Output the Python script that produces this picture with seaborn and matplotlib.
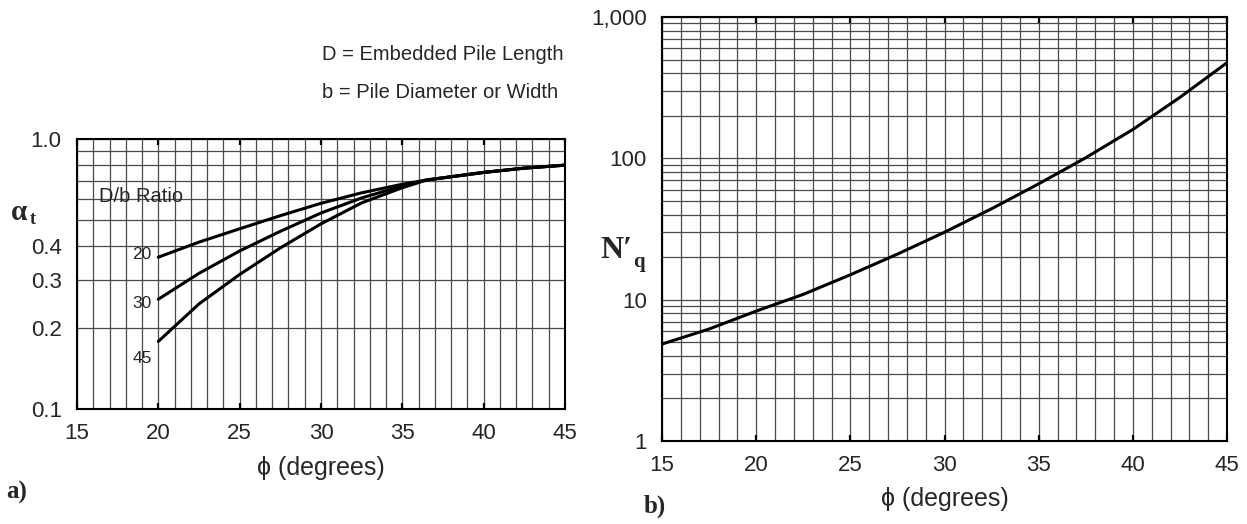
import matplotlib
matplotlib.use("Agg")
import matplotlib.pyplot as plt
from matplotlib.ticker import FixedLocator, NullFormatter
import pandas as pd
import seaborn as sns

# ---- data -------------------------------------------------------------
# a) alpha_t versus friction angle for three D/b ratios
phi_a = [20, 22.5, 25, 27.5, 30, 32.5, 35, 36.5, 40, 42.5, 45]
alpha_db20 = [0.365, 0.415, 0.465, 0.520, 0.578, 0.632, 0.680, 0.705, 0.752, 0.780, 0.800]
alpha_db30 = [0.255, 0.318, 0.385, 0.455, 0.532, 0.605, 0.670, 0.705, 0.752, 0.780, 0.800]
alpha_db45 = [0.178, 0.245, 0.315, 0.395, 0.485, 0.580, 0.660, 0.705, 0.752, 0.780, 0.800]
db_ratios = [20, 30, 45]

# b) bearing capacity factor N'q versus friction angle
phi_b = [15, 17.5, 20, 22.5, 25, 27.5, 30, 32.5, 35, 37.5, 40, 42.5, 45]
nq = [4.85, 6.2, 8.3, 10.9, 15.0, 21.0, 30.0, 44.0, 66.0, 101.0, 160.0, 270.0, 475.0]

# axis tick values / labels
phi_major = [15, 20, 25, 30, 35, 40, 45]
alpha_ticks = [0.1, 0.2, 0.3, 0.4, 1.0]
alpha_ticklabels = ["0.1", "0.2", "0.3", "0.4", "1.0"]
nq_ticks = [1, 10, 100, 1000]
nq_ticklabels = ["1", "10", "100", "1,000"]

# ---- style ------------------------------------------------------------
sns.set_style("white")
plt.rcParams["font.family"] = ["Liberation Sans", "DejaVu Sans"]
plt.rcParams["axes.edgecolor"] = "black"
plt.rcParams["axes.linewidth"] = 1.5

W, H = 1247, 524
fig = plt.figure(figsize=(W / 100, H / 100), dpi=100)


def px_axes(x0, y0, x1, y1):
    return fig.add_axes([x0 / W, 1 - y1 / H, (x1 - x0) / W, (y1 - y0) / H])


axA = px_axes(77, 139, 565, 409)
axB = px_axes(662, 17, 1227, 441)

grid_kw = dict(color="#4a4a4a", linewidth=0.9)
serif = ["Liberation Serif", "DejaVu Serif"]
TICK_FS = 16
LABEL_FS = 18

# ---- panel a ----------------------------------------------------------
rows = []
for r, vals in zip(db_ratios, [alpha_db20, alpha_db30, alpha_db45]):
    for p, v in zip(phi_a, vals):
        rows.append({"phi": p, "alpha": v, "ratio": r})
dfA = pd.DataFrame(rows)
sns.lineplot(data=dfA, x="phi", y="alpha", hue="ratio",
             palette={r: "black" for r in db_ratios}, estimator=None,
             legend=False, linewidth=2.2, ax=axA, zorder=3)
axA.set_yscale("log")
axA.set_xlim(15, 45)
axA.set_ylim(0.1, 1.0)
axA.xaxis.set_major_locator(FixedLocator(phi_major))
axA.xaxis.set_minor_locator(FixedLocator(range(15, 46)))
axA.yaxis.set_major_locator(FixedLocator(alpha_ticks))
axA.yaxis.set_minor_locator(FixedLocator([0.5, 0.6, 0.7, 0.8, 0.9]))
axA.set_yticklabels(alpha_ticklabels)
axA.yaxis.set_minor_formatter(NullFormatter())
axA.grid(which="both", **grid_kw)

axA.text(16.36, 0.611, "D/b Ratio", ha="left", va="center", fontsize=14.5)
for lab, y in zip(db_ratios, [0.372, 0.246, 0.154]):
    axA.text(19.0, y, str(lab), ha="center", va="center", fontsize=12.5)

axA.set_xlabel("\u03d5 (degrees)", fontsize=LABEL_FS)
axA.xaxis.set_label_coords(0.5, (409 - 468) / 270)
axA.xaxis.label.set_va("center")
axA.set_ylabel("")

# ---- panel b ----------------------------------------------------------
dfB = pd.DataFrame({"phi": phi_b, "nq": nq})
sns.lineplot(data=dfB, x="phi", y="nq", color="black", linewidth=2.2,
             ax=axB, zorder=3)
axB.set_yscale("log")
axB.set_xlim(15, 45)
axB.set_ylim(1, 1000)
axB.xaxis.set_major_locator(FixedLocator(phi_major))
axB.xaxis.set_minor_locator(FixedLocator(range(15, 46)))
axB.yaxis.set_major_locator(FixedLocator(nq_ticks))
axB.yaxis.set_minor_locator(FixedLocator(
    [m * d for d in (1, 10, 100) for m in range(2, 10)]))
axB.set_yticklabels(nq_ticklabels)
axB.yaxis.set_minor_formatter(NullFormatter())
axB.grid(which="both", **grid_kw)

axB.set_xlabel("\u03d5 (degrees)", fontsize=LABEL_FS)
axB.xaxis.set_label_coords(0.5, (441 - 499) / 424)
axB.xaxis.label.set_va("center")
axB.set_ylabel("")

for ax in (axA, axB):
    ax.tick_params(axis="x", which="major", direction="in", length=4,
                   width=1.6, top=True, bottom=True, labelsize=TICK_FS,
                   pad=10, color="black")
    ax.tick_params(axis="x", which="minor", length=0)
    ax.tick_params(axis="y", which="both", length=0, labelsize=TICK_FS,
                   pad=11)
    for s in ax.spines.values():
        s.set_visible(True)
        s.set_linewidth(1.5)
        s.set_color("black")

# ---- annotations in figure pixels ------------------------------------
def ftext(x, y, s, **kw):
    fig.text(x / W, 1 - y / H, s, **kw)


ftext(322, 55, "D = Embedded Pile Length", ha="left", va="center", fontsize=14.5)
ftext(322, 93, "b = Pile Diameter or Width", ha="left", va="center", fontsize=14.5)

ftext(19, 213, "\u03b1", ha="center", va="center", fontsize=21,
      fontweight="bold", family=serif)
ftext(33, 219, "t", ha="center", va="center", fontsize=13,
      fontweight="bold", family=serif)

ftext(616, 250, "N\u2032", ha="center", va="center", fontsize=23,
      fontweight="bold", family=serif)
ftext(639, 262, "q", ha="center", va="center", fontsize=15,
      fontweight="bold", family=serif)

ftext(17, 492, "a)", ha="center", va="center", fontsize=18,
      fontweight="bold", family=serif)
ftext(655, 506, "b)", ha="center", va="center", fontsize=18,
      fontweight="bold", family=serif)

fig.savefig("out.png", dpi=100, facecolor="white")
